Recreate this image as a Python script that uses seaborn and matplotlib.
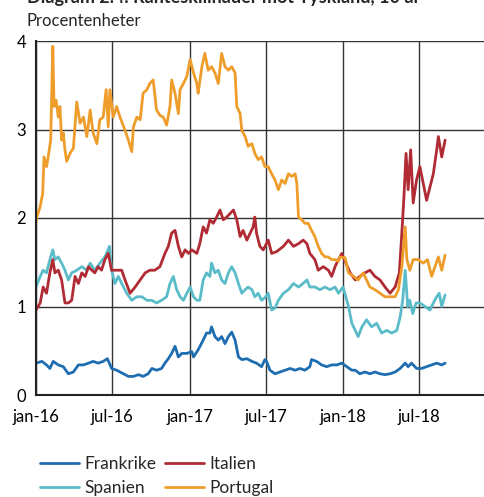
import matplotlib
matplotlib.use("Agg")
import matplotlib.pyplot as plt
import pandas as pd
import seaborn as sns

# days after 2016-01-01 and spread (percentage points)
frankrike_days = [0, 14, 25, 33, 41, 53, 65, 77, 89, 101, 113, 125, 136, 148, 160, 170, 180, 192,
                  208, 220, 232, 244, 255, 267, 276, 287, 299, 307, 315, 323, 331, 339, 347, 359,
                  371, 375, 386, 398, 406, 414, 418, 426, 434, 442, 450, 458, 466, 474, 482, 490,
                  502, 514, 525, 537, 545, 549, 557, 569, 581, 593, 605, 617, 629, 640, 652, 656,
                  668, 680, 692, 704, 716, 728, 740, 752, 760, 771, 783, 795, 807, 819, 831, 843,
                  855, 867, 879, 886, 894, 906, 918, 930, 942, 954, 966, 974]
frankrike = [0.36, 0.38, 0.34, 0.30, 0.38, 0.34, 0.32, 0.24, 0.26, 0.34, 0.34, 0.36, 0.38, 0.36,
             0.38, 0.41, 0.30, 0.28, 0.24, 0.21, 0.21, 0.23, 0.21, 0.24, 0.30, 0.28, 0.30, 0.36,
             0.41, 0.47, 0.55, 0.43, 0.47, 0.47, 0.49, 0.43, 0.51, 0.62, 0.70, 0.70, 0.77, 0.66,
             0.62, 0.66, 0.58, 0.66, 0.71, 0.62, 0.43, 0.40, 0.41, 0.38, 0.36, 0.32, 0.40, 0.38,
             0.28, 0.24, 0.26, 0.28, 0.30, 0.28, 0.30, 0.28, 0.32, 0.40, 0.38, 0.34, 0.32, 0.34,
             0.34, 0.36, 0.32, 0.28, 0.28, 0.24, 0.26, 0.24, 0.26, 0.24, 0.23, 0.24, 0.26, 0.30,
             0.36, 0.32, 0.36, 0.30, 0.30, 0.32, 0.34, 0.36, 0.34, 0.36]

italien_days = [0, 10, 17, 25, 33, 40, 45, 53, 61, 69, 77, 85, 93, 101, 109, 117, 125, 133, 140,
                148, 156, 164, 172, 180, 192, 204, 212, 224, 236, 248, 260, 271, 283, 295, 307,
                315, 323, 331, 339, 347, 355, 363, 371, 383, 390, 398, 406, 414, 422, 430, 438,
                446, 454, 462, 470, 478, 486, 493, 502, 510, 517, 521, 525, 533, 541, 553, 561,
                573, 589, 601, 613, 625, 636, 645, 652, 664, 672, 684, 696, 704, 712, 720, 728,
                736, 748, 760, 771, 783, 795, 807, 819, 831, 843, 855, 865, 871, 876, 881, 886,
                892, 898, 906, 914, 922, 930, 938, 946, 954, 958, 966, 974]
italien = [0.96, 1.04, 1.22, 1.15, 1.38, 1.53, 1.38, 1.41, 1.30, 1.04, 1.04, 1.07, 1.34, 1.26,
           1.38, 1.34, 1.45, 1.41, 1.38, 1.45, 1.41, 1.53, 1.60, 1.41, 1.41, 1.41, 1.30, 1.15,
           1.22, 1.30, 1.38, 1.41, 1.41, 1.45, 1.60, 1.68, 1.83, 1.86, 1.68, 1.56, 1.64, 1.60,
           1.64, 1.60, 1.71, 1.90, 1.83, 1.98, 1.94, 2.01, 2.09, 1.98, 2.01, 2.05, 2.09, 1.98,
           1.79, 1.86, 1.75, 1.83, 1.90, 2.01, 1.83, 1.68, 1.64, 1.75, 1.60, 1.62, 1.68, 1.75,
           1.68, 1.71, 1.75, 1.71, 1.60, 1.53, 1.41, 1.45, 1.41, 1.34, 1.45, 1.53, 1.60, 1.51,
           1.38, 1.30, 1.34, 1.38, 1.41, 1.34, 1.30, 1.22, 1.15, 1.22, 1.38, 1.83, 2.24, 2.73,
           2.32, 2.77, 2.17, 2.43, 2.58, 2.39, 2.20, 2.35, 2.50, 2.77, 2.92, 2.69, 2.88]

spanien_days = [0, 10, 17, 25, 33, 40, 45, 53, 61, 69, 77, 85, 97, 109, 121, 129, 140, 152, 164,
                175, 180, 188, 196, 204, 216, 228, 240, 252, 264, 276, 287, 299, 311, 319, 327,
                335, 343, 351, 359, 367, 375, 383, 390, 398, 406, 414, 418, 426, 434, 442, 450,
                458, 466, 474, 482, 490, 498, 505, 514, 521, 529, 537, 545, 553, 561, 569, 577,
                589, 601, 613, 625, 636, 645, 652, 664, 676, 688, 700, 712, 720, 731, 744, 752,
                760, 767, 776, 787, 799, 811, 823, 835, 847, 859, 867, 873, 879, 885, 890, 897,
                905, 914, 926, 938, 946, 954, 960, 966, 974]
spanien = [1.22, 1.34, 1.41, 1.38, 1.53, 1.64, 1.53, 1.56, 1.49, 1.41, 1.30, 1.38, 1.41, 1.45,
           1.41, 1.49, 1.41, 1.49, 1.56, 1.68, 1.41, 1.26, 1.34, 1.26, 1.15, 1.07, 1.11, 1.11,
           1.07, 1.07, 1.04, 1.07, 1.11, 1.26, 1.34, 1.19, 1.11, 1.07, 1.15, 1.22, 1.11, 1.07,
           1.07, 1.30, 1.38, 1.34, 1.49, 1.38, 1.41, 1.30, 1.26, 1.38, 1.45, 1.38, 1.26, 1.15,
           1.19, 1.22, 1.19, 1.11, 1.15, 1.07, 1.10, 1.15, 0.96, 0.98, 1.07, 1.15, 1.19, 1.26,
           1.22, 1.26, 1.30, 1.22, 1.22, 1.19, 1.22, 1.19, 1.22, 1.15, 1.22, 1.00, 0.81, 0.73,
           0.66, 0.77, 0.85, 0.77, 0.81, 0.70, 0.73, 0.70, 0.73, 0.88, 1.07, 1.41, 1.00, 1.07,
           0.92, 1.04, 1.04, 1.00, 0.96, 1.04, 1.11, 1.15, 1.00, 1.13]

portugal_days = [0, 2, 10, 16, 19, 25, 29, 35, 40, 43, 48, 53, 57, 61, 65, 69, 73, 81, 89, 97,
                 105, 113, 121, 129, 136, 145, 152, 160, 167, 172, 176, 184, 192, 200, 212, 220,
                 228, 232, 240, 248, 255, 264, 271, 279, 287, 295, 303, 311, 319, 323, 331, 339,
                 343, 351, 359, 367, 375, 383, 386, 395, 402, 410, 418, 426, 434, 442, 450, 458,
                 466, 474, 478, 486, 490, 498, 505, 514, 521, 529, 537, 545, 553, 561, 569, 577,
                 585, 593, 601, 609, 617, 621, 625, 633, 640, 648, 656, 664, 672, 680, 688, 696,
                 704, 712, 720, 724, 736, 744, 756, 767, 779, 795, 807, 819, 831, 843, 855, 863,
                 871, 879, 883, 890, 898, 910, 922, 932, 942, 950, 958, 966, 974]
portugal = [1.95, 2.01, 2.13, 2.28, 2.69, 2.58, 2.69, 2.88, 3.94, 3.26, 3.33, 3.14, 3.26, 2.88,
            2.96, 2.77, 2.64, 2.73, 2.79, 3.31, 3.07, 3.14, 2.92, 3.22, 2.96, 2.84, 3.11, 3.14,
            3.45, 3.03, 3.45, 3.14, 3.26, 3.14, 2.99, 2.88, 2.75, 3.03, 3.14, 3.11, 3.41, 3.45,
            3.52, 3.56, 3.22, 3.16, 3.14, 3.05, 3.26, 3.56, 3.41, 3.18, 3.45, 3.52, 3.60, 3.79,
            3.64, 3.52, 3.41, 3.71, 3.86, 3.67, 3.71, 3.64, 3.52, 3.86, 3.71, 3.67, 3.71, 3.64,
            3.26, 3.18, 2.99, 2.92, 2.81, 2.84, 2.73, 2.66, 2.69, 2.58, 2.58, 2.50, 2.43, 2.32,
            2.43, 2.39, 2.50, 2.47, 2.50, 2.39, 2.01, 1.98, 1.94, 1.94, 1.86, 1.79, 1.68, 1.60,
            1.56, 1.56, 1.53, 1.53, 1.51, 1.56, 1.55, 1.38, 1.34, 1.30, 1.38, 1.22, 1.19, 1.15,
            1.11, 1.11, 1.11, 1.19, 1.45, 1.90, 1.53, 1.41, 1.53, 1.53, 1.49, 1.53, 1.34, 1.45,
            1.56, 1.41, 1.58]

tick_dates = ["2016-01-01", "2016-07-01", "2017-01-01", "2017-07-01", "2018-01-01", "2018-07-01"]
tick_labels = ["jan-16", "jul-16", "jan-17", "jul-17", "jan-18", "jul-18"]

colors = {"Frankrike": "#1f6db1", "Spanien": "#5bbcc9", "Italien": "#b02b33", "Portugal": "#ee9d2b"}

start = pd.Timestamp("2016-01-01")
frames = []
for name, days, vals in [("Frankrike", frankrike_days, frankrike),
                         ("Spanien", spanien_days, spanien),
                         ("Italien", italien_days, italien),
                         ("Portugal", portugal_days, portugal)]:
    frames.append(pd.DataFrame({"date": start + pd.to_timedelta(days, unit="D"),
                                "value": vals, "land": name}))
df = pd.concat(frames, ignore_index=True)

sns.set_style("white")
plt.rcParams["font.family"] = ["Lato", "DejaVu Sans"]

fig = plt.figure(figsize=(4.85, 4.97), dpi=100)
ax = fig.add_axes([36 / 485, 102 / 497, 449 / 485, 354 / 497])

sns.lineplot(data=df, x="date", y="value", hue="land", palette=colors,
             hue_order=["Frankrike", "Spanien", "Italien", "Portugal"],
             linewidth=2, ax=ax, estimator=None)

ax.set_xlim(start, pd.Timestamp("2018-12-05"))
ax.set_ylim(0, 4)
ax.set_yticks([0, 1, 2, 3, 4])
ax.set_xticks(pd.to_datetime(tick_dates))
ax.set_xticklabels(tick_labels)
ax.set_xlabel("")
ax.set_ylabel("")
ax.grid(True, color="#333333", linewidth=1)
ax.set_axisbelow(True)
ax.tick_params(axis="both", length=0, labelsize=12, colors="black")
ax.tick_params(axis="x", pad=10)
ax.tick_params(axis="y", pad=7)
for s in ["top", "right"]:
    ax.spines[s].set_visible(False)
for s in ["left", "bottom"]:
    ax.spines[s].set_color("#222222")
    ax.spines[s].set_linewidth(1.5)

ax.legend(loc="upper left", bbox_to_anchor=(40 / 485, 1 - 456 / 497),
          bbox_transform=fig.transFigure, ncol=2, frameon=False, fontsize=12.5,
          handlelength=2.25, handletextpad=0.3, columnspacing=0.5, labelspacing=0.45,
          borderpad=0, borderaxespad=0)

fig.text(27 / 485, 1 - 3 / 497, "Diagram 2.4. Ränteskillnader mot Tyskland, 10 år",
         fontsize=13, fontweight="bold", va="baseline")
fig.text(27 / 485, 1 - 26 / 497, "Procentenheter", fontsize=12, va="baseline")

fig.savefig("out.png", dpi=100)
